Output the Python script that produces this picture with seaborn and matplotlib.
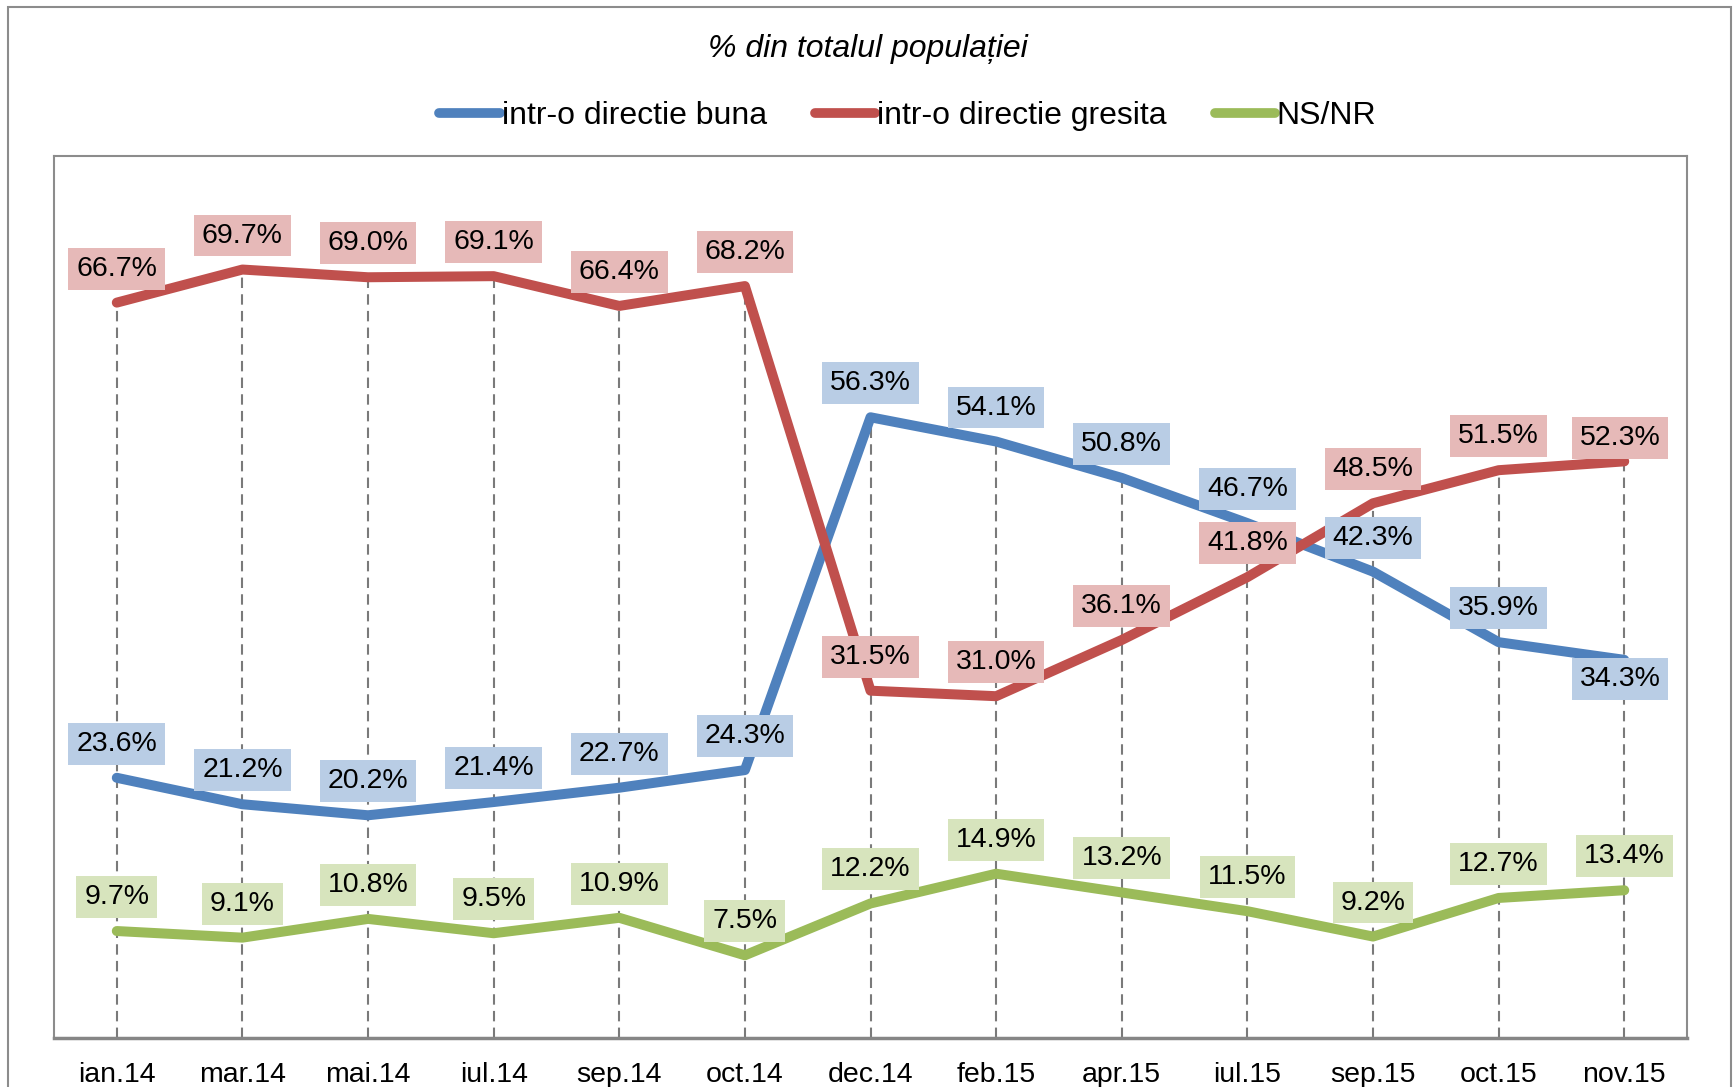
import numpy as np
import pandas as pd
import seaborn as sns
import matplotlib.pyplot as plt
from matplotlib.patches import Rectangle

# data
months = ['ian.14', 'mar.14', 'mai.14', 'iul.14', 'sep.14', 'oct.14', 'dec.14',
          'feb.15', 'apr.15', 'iul.15', 'sep.15', 'oct.15', 'nov.15']
buna = [23.6, 21.2, 20.2, 21.4, 22.7, 24.3, 56.3, 54.1, 50.8, 46.7, 42.3, 35.9, 34.3]
gresita = [66.7, 69.7, 69.0, 69.1, 66.4, 68.2, 31.5, 31.0, 36.1, 41.8, 48.5, 51.5, 52.3]
nsnr = [9.7, 9.1, 10.8, 9.5, 10.9, 7.5, 12.2, 14.9, 13.2, 11.5, 9.2, 12.7, 13.4]
series_names = ['intr-o directie buna', 'intr-o directie gresita', 'NS/NR']
title = '% din totalul populației'

line_colors = ['#4f81bd', '#c0504d', '#9bbb59']
box_colors = ['#b9cde5', '#e6b9b8', '#d7e4bd']
gray = '#868686'

series_vals = [buna, gresita, nsnr]
df = pd.DataFrame({
    'x': list(range(len(months))) * 3,
    'val': buna + gresita + nsnr,
    'serie': [n for n in series_names for _ in months],
})

sns.set_style('white')
plt.rcParams['font.family'] = ['Liberation Sans', 'DejaVu Sans']
plt.rcParams['text.color'] = 'black'
plt.rcParams['xtick.labelcolor'] = 'black'

fig = plt.figure(figsize=(17.36, 10.87), dpi=100)
ax = fig.add_axes([0.0311, 0.0451, 0.9407, 0.8114])

# drop lines from the highest point down to the axis
tops = np.max(np.array(series_vals), axis=0)
ax.vlines(range(len(months)), 0, tops, colors='#7a7a7a',
          linestyles=(0, (5, 3)), linewidth=1.5, zorder=1)

sns.lineplot(data=df, x='x', y='val', hue='serie', palette=line_colors,
             linewidth=7.2, solid_capstyle='round', solid_joinstyle='round',
             sort=False, ax=ax, zorder=3)

# data labels (a couple were nudged in the original)
nudge = {(0, 12): (-3, -14), (1, 12): (-3, 16.5)}
for i, vals in enumerate(series_vals):
    for j, v in enumerate(vals):
        dx, dy = nudge.get((i, j), (0, 24.5))
        ax.annotate(f'{v:.1f}%', (j, v), xytext=(dx, dy), textcoords='offset points',
                    ha='center', va='center', fontsize=20.5, color='black',
                    bbox=dict(boxstyle='square,pad=0.28', fc=box_colors[i], ec='none'),
                    zorder=5)

ax.set_xlim(-0.5, len(months) - 0.5)
ax.set_ylim(0, 80)
ax.set_yticks([])
ax.set_xticks(range(len(months)))
ax.set_xticklabels(months, fontsize=20.5, color='black')
ax.set_xticks(np.arange(-0.5, len(months), 1), minor=True)
ax.tick_params(axis='x', which='major', length=0, pad=17)
ax.tick_params(axis='x', which='minor', length=10, direction='inout', color=gray, width=1.6)
ax.set_xlabel('')
ax.set_ylabel('')

for side in ['top', 'left', 'right']:
    ax.spines[side].set_color('#8c8c8c')
    ax.spines[side].set_linewidth(1.5)
ax.spines['bottom'].set_color(gray)
ax.spines['bottom'].set_linewidth(2.5)

handles, labels = ax.get_legend_handles_labels()
ax.get_legend().remove()
leg = fig.legend(handles, labels, loc='center', bbox_to_anchor=(0.523, 0.893), ncol=3,
                 frameon=False, fontsize=23, handlelength=1.9, handletextpad=0.05,
                 columnspacing=1.5, labelcolor='black')
for line in leg.get_lines():
    line.set_linewidth(7)
    line.set_solid_capstyle('round')

fig.text(0.5, 0.955, title, ha='center', va='center', fontsize=23, style='italic',
         color='black')

# outer chart border
fig.add_artist(Rectangle((8 / 1736, -0.05), 1723 / 1736, 1 - 7 / 1087 + 0.05,
                         transform=fig.transFigure, fill=False, edgecolor='#8c8c8c', lw=1.5))

fig.savefig('out.png', dpi=100)
